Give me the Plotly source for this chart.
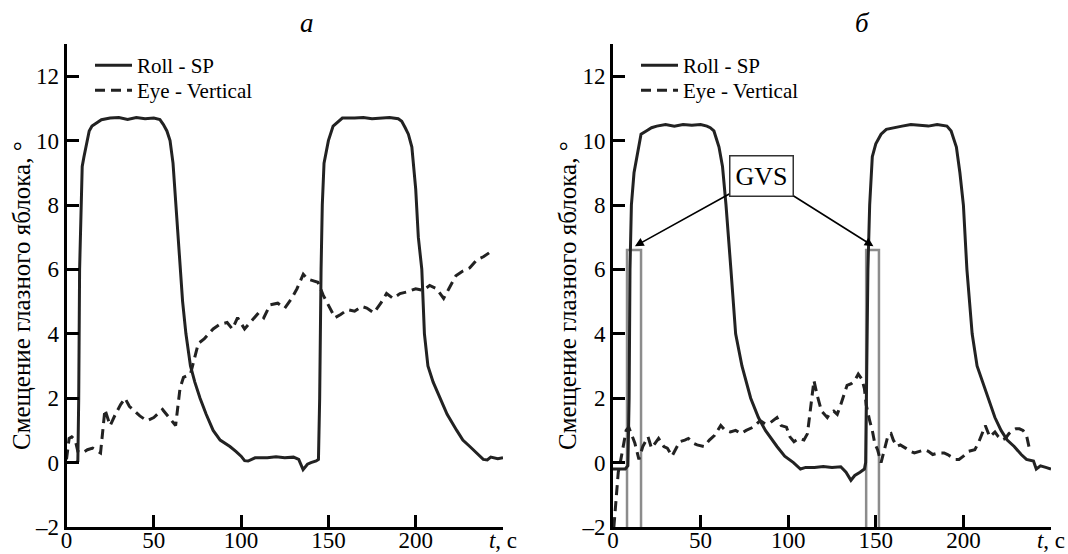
import plotly.graph_objects as go

# ---------------- data ----------------
# panel "а"
roll_a = [(0, 0), (5.5, 0), (6.5, 0.05), (7, 2), (7.5, 6), (8.3, 8), (9, 9.2), (10, 9.5),
          (11.8, 10), (13, 10.3), (14.6, 10.45), (17, 10.55), (20, 10.65), (25, 10.7),
          (30, 10.72), (35, 10.66), (40, 10.72), (45, 10.68), (50, 10.7), (53.5, 10.65),
          (55.5, 10.5), (57.5, 10.3), (59.3, 10), (61, 9.3), (62.7, 8), (65, 6), (66.5, 5),
          (68.4, 4), (71, 3), (73.5, 2.5), (76.5, 2), (80, 1.5), (84, 1), (88, 0.7),
          (93.6, 0.5), (97, 0.35), (100, 0.2), (102, 0.06), (104, 0.05), (108, 0.15),
          (115, 0.15), (120, 0.18), (125, 0.15), (130, 0.17), (133, 0.1), (135.5, -0.22),
          (138, -0.05), (140, 0.0), (143, 0.05), (144.3, 0.1), (145, 2), (145.8, 6),
          (146.5, 8), (147.5, 9.3), (150, 10), (152.7, 10.45), (155, 10.55), (158, 10.7),
          (165, 10.7), (170, 10.72), (175, 10.68), (180, 10.7), (185, 10.72), (190, 10.68),
          (192, 10.6), (194, 10.4), (195.8, 10.2), (197.8, 9.8), (200, 8.5), (201.5, 7),
          (203.5, 6), (205, 4), (207, 3), (210, 2.5), (214, 2), (218, 1.5), (223.5, 1),
          (227, 0.7), (231, 0.5), (235, 0.3), (238.7, 0.1), (241, 0.08), (243, 0.17),
          (247, 0.12), (250, 0.15)]
eye_a = [(0, 0.1), (1.5, 0.75), (3, 0.8), (5, 0.7), (6.5, 0.35), (9, 0.3), (12, 0.4),
         (15, 0.45), (18, 0.35), (19.5, 0.3), (22, 1.65), (25, 1.15), (28, 1.5), (31, 1.8),
         (33.5, 2.0), (36, 1.75), (39, 1.6), (42, 1.45), (46, 1.3), (50, 1.4), (55, 1.65),
         (58.5, 1.4), (62.5, 1.15), (65, 2.3), (67, 2.65), (71, 2.75), (73, 3.2), (75.5, 3.7),
         (79, 3.85), (84, 4.15), (88, 4.3), (92, 4.35), (95, 4.15), (98, 4.5), (102, 4.15),
         (106, 4.4), (110, 4.65), (113, 4.5), (116.6, 4.9), (121, 4.95), (125, 4.8),
         (129, 5.1), (132, 5.4), (135.6, 5.85), (138, 5.7), (141, 5.65), (144, 5.6),
         (147, 5.2), (150, 4.9), (153.8, 4.5), (157, 4.6), (161, 4.75), (165, 4.7),
         (169, 4.85), (172, 4.8), (176, 4.65), (180, 4.95), (183.3, 5.25), (187, 5.1),
         (191, 5.25), (195, 5.3), (200, 5.4), (204, 5.35), (208, 5.5), (212, 5.4),
         (216, 5.1), (219, 5.4), (223, 5.8), (227, 5.95), (231, 6.05), (235, 6.3),
         (239, 6.4), (243, 6.55)]

# panel "б"
roll_b = [(0, -0.2), (7, -0.2), (8.5, -0.1), (9.2, 2), (9.7, 6), (10.5, 8), (12, 9),
          (13.7, 9.5), (16, 10.2), (19, 10.3), (22, 10.4), (25, 10.45), (30, 10.5),
          (35, 10.45), (40, 10.5), (45, 10.48), (50, 10.5), (53.6, 10.45), (55.5, 10.4),
          (57.6, 10.3), (60.5, 9.8), (62.5, 9.2), (64.5, 8), (67.3, 6), (70, 4), (73.6, 3),
          (78.6, 2), (83, 1.4), (87, 1), (93.6, 0.5), (98, 0.2), (103, 0.0), (107, -0.2),
          (110, -0.15), (115, -0.15), (120, -0.12), (125, -0.15), (130, -0.13), (133, -0.3),
          (135.8, -0.55), (138, -0.4), (141, -0.3), (143.5, -0.2), (144.2, 0), (144.8, 3),
          (145.5, 6), (146.5, 8), (148, 9.5), (150, 9.9), (153, 10.2), (156, 10.35),
          (160, 10.4), (165, 10.45), (170, 10.5), (180, 10.45), (185, 10.5), (190.6, 10.45),
          (193, 10.3), (196, 9.8), (198, 9.0), (200, 8), (202, 6), (205, 4), (207.8, 3),
          (211, 2.5), (214.6, 2), (218, 1.4), (221.5, 1), (225, 0.7), (229, 0.5),
          (233, 0.25), (236, 0.1), (240, 0.05), (241.6, -0.2), (244, -0.1), (247, -0.15),
          (250, -0.2)]
eye_b = [(0.5, -2), (1.5, -1.2), (3, -0.3), (4.5, 0.1), (6, 0.5), (7.5, 1.0), (9, 1.1),
         (10.5, 0.9), (12.5, 0.6), (14.8, 0.1), (17, 0.5), (20, 0.8), (22, 0.45), (24, 0.6),
         (26, 0.75), (29, 0.5), (31, 0.45), (33.7, 0.2), (36, 0.45), (38, 0.65), (41, 0.7),
         (43, 0.75), (46, 0.6), (48, 0.55), (52, 0.5), (55, 0.7), (58, 0.85), (61.5, 1.15),
         (64, 1.0), (67, 0.95), (70, 1.0), (73, 0.9), (76, 1.0), (80, 1.1), (84, 1.3),
         (87, 1.2), (90, 1.25), (93.6, 1.4), (96, 1.15), (99, 1.1), (101, 0.8), (103.3, 0.65),
         (106, 0.75), (109, 0.7), (111, 0.9), (113, 1.9), (114.7, 2.55), (116.5, 2.1),
         (119, 1.6), (122.3, 1.4), (124, 1.55), (126, 1.6), (128, 1.5), (130, 1.8),
         (133.6, 2.4), (136, 2.45), (138, 2.55), (140, 2.75), (142, 2.6), (143.5, 2.3),
         (144.5, 1.8), (146.5, 1.3), (148, 1.0), (149.4, 0.6), (151, 0.4), (153, 0.0),
         (155, 0.4), (157, 0.85), (158.7, 0.9), (160, 0.7), (162, 0.5), (164, 0.55),
         (167, 0.45), (169.7, 0.35), (172, 0.3), (175, 0.35), (178, 0.4), (180, 0.35),
         (182.5, 0.25), (186, 0.3), (189, 0.3), (191, 0.25), (193.6, 0.15), (195.5, 0.1),
         (197.5, 0.1), (200, 0.2), (203, 0.35), (206.5, 0.4), (208.5, 0.6), (210.5, 0.9),
         (212.5, 1.15), (215, 0.8), (218, 0.95), (220, 0.8), (222, 0.7), (224, 0.75),
         (226, 0.9), (228, 1.0), (230, 1.05), (232, 1.05), (234, 1.0), (236, 0.85),
         (237, 0.55), (238, 0.35)]

# GVS stimulation intervals (panel "б")
gvs_start = [8.0, 144.5]
gvs_end = [16.0, 151.8]
gvs_level = 6.6
gvs_floor = -2

x_tickvals = [0, 50, 100, 150, 200, 250]
x_ticktext = ["0", "50", "100", "150", "200", "<i>t</i>, с"]
y_tickvals = [-2, 0, 2, 4, 6, 8, 10, 12]
y_ticktext = ["\u20132", "0", "2", "4", "6", "8", "10", "12"]

panel_titles = ["а", "б"]
y_title = "Смещение глазного яблока, °"
name_roll = "Roll - SP"
name_eye = "Eye - Vertical"

# ---------------- figure ----------------
W, H = 1068, 554
FONT = "Liberation Serif"
INK = "#222222"


def unzip(pairs):
    return [p[0] for p in pairs], [p[1] for p in pairs]


fig = go.Figure()

# GVS boxes (drawn first, underneath the curves)
for s, e in zip(gvs_start, gvs_end):
    fig.add_trace(go.Scatter(x=[s, s, e, e], y=[gvs_floor, gvs_level, gvs_level, gvs_floor],
                             mode="lines", xaxis="x2", yaxis="y2", showlegend=False,
                             line=dict(color="#8c8c8c", width=2.5)))

# each legend row gets its own legend box so the rows can be placed exactly
panels = [("x", "y", "legend", "legend2", roll_a, eye_a),
          ("x2", "y2", "legend3", "legend4", roll_b, eye_b)]
for xa, ya, lg_r, lg_e, roll, eye in panels:
    ex, ey = unzip(eye)
    rx, ry = unzip(roll)
    fig.add_trace(go.Scatter(x=rx, y=ry, mode="lines", name=name_roll, legend=lg_r,
                             xaxis=xa, yaxis=ya,
                             line=dict(color=INK, width=3)))
    fig.add_trace(go.Scatter(x=ex, y=ey, mode="lines", name=name_eye, legend=lg_e,
                             xaxis=xa, yaxis=ya,
                             line=dict(color=INK, width=3, dash="10px,6px")))

axis_common = dict(
    showline=True, linecolor="black", linewidth=3, mirror=False,
    ticks="inside", ticklen=12, tickwidth=2.5, tickcolor="black",
    showgrid=False, zeroline=False, automargin=False,
    tickfont=dict(family=FONT, size=23, color="black"),
)
x_extra = dict(range=[0, 250], tickvals=x_tickvals, ticktext=x_ticktext,
               ticklabelstandoff=-10, ticklabeloverflow="allow")
y_extra = dict(range=[-2, 13], tickvals=y_tickvals, ticktext=y_ticktext)

xd_a = [66.5 / W, 503 / W]
xd_b = [613 / W, 1051 / W]
yd = [(H - 527) / H, (H - 44) / H]

legend_common = dict(xanchor="left", yanchor="top", bgcolor="rgba(0,0,0,0)",
                     font=dict(family=FONT, size=21, color="black"),
                     tracegroupgap=0, itemwidth=37)
row1_top, row2_top = 67 - 22, 92 - 22

fig.update_layout(
    width=W, height=H,
    margin=dict(l=0, r=0, t=0, b=0),
    paper_bgcolor="white", plot_bgcolor="white",
    font=dict(family=FONT, color="black"),
    xaxis=dict(domain=xd_a, anchor="y", **x_extra, **axis_common),
    yaxis=dict(domain=yd, anchor="x", **y_extra, **axis_common),
    xaxis2=dict(domain=xd_b, anchor="y2", **x_extra, **axis_common),
    yaxis2=dict(domain=yd, anchor="x2", **y_extra, **axis_common),
    legend=dict(x=90 / W, y=1 - row1_top / H, **legend_common),
    legend2=dict(x=90 / W, y=1 - row2_top / H, **legend_common),
    legend3=dict(x=636 / W, y=1 - row1_top / H, **legend_common),
    legend4=dict(x=636 / W, y=1 - row2_top / H, **legend_common),
    showlegend=True,
)

# panel letters
for txt, px in zip(panel_titles, [307, 862]):
    fig.add_annotation(text="<i>" + txt + "</i>", x=px / W, y=1 - 23 / H, xref="paper",
                       yref="paper", showarrow=False, xanchor="center", yanchor="middle",
                       font=dict(family=FONT, size=27, color="black"))

# y-axis titles
for px in [21, 567]:
    fig.add_annotation(text=y_title, x=px / W, y=1 - 296 / H, xref="paper", yref="paper",
                       showarrow=False, textangle=-90, xanchor="center", yanchor="middle",
                       font=dict(family=FONT, size=25, color="black"))

# GVS label with arrows
gvs_label_t, gvs_label_y = 85.0, 8.9
for s, e in zip(gvs_start, gvs_end):
    fig.add_annotation(text="GVS", x=(s + e) / 2 + 0.5, y=gvs_level + 0.12,
                       xref="x2", yref="y2", axref="x2", ayref="y2",
                       ax=gvs_label_t, ay=gvs_label_y,
                       showarrow=True, arrowhead=2, arrowsize=1.1, arrowwidth=1.6,
                       arrowcolor="black", standoff=0,
                       bordercolor="#333333", borderwidth=1.5, borderpad=5,
                       bgcolor="white",
                       font=dict(family=FONT, size=26, color="black"))

fig.write_html("out.html", config={"displayModeBar": False},
               post_script="document.body.style.margin='0px';")
